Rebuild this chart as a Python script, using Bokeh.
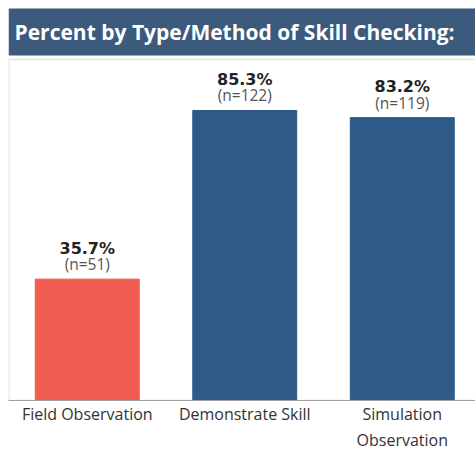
from bokeh.plotting import figure
from bokeh.models import Range1d, BoxAnnotation, Label, ColumnDataSource, FixedTicker
from bokeh.core.properties import value
from bokeh.embed import file_html
from bokeh.resources import INLINE

categories = ["Field Observation", "Demonstrate Skill", "Simulation\nObservation"]
percents = [35.7, 85.3, 83.2]
counts = [51, 122, 119]
colors = ["#f05c50", "#2e5a87", "#2e5a87"]
title_text = "Percent by Type/Method of Skill Checking:"

xs = list(range(len(categories)))
src = ColumnDataSource(dict(
    x=xs, top=percents, color=colors,
    pct=[f"{v:.1f}%" for v in percents],
    n=[f"(n={c})" for c in counts],
))

FONT = "Open Sans"
LFONT = "DejaVu Sans"
p = figure(frame_width=467, frame_height=392, output_backend="svg", toolbar_location=None,
           x_range=Range1d(-0.5, 2.465), y_range=Range1d(0, 115.3),
           min_border_left=8, min_border_right=0, min_border_top=8, min_border_bottom=0)
p.outline_line_color = None
p.grid.visible = False
p.yaxis.visible = False
p.background_fill_color = "white"

p.vbar(x="x", top="top", width=0.66, color="color", source=src)

# title band
p.add_layout(BoxAnnotation(bottom=101.5, top=116, fill_color="#3b5a7c", fill_alpha=1, line_color=None))
p.add_layout(Label(x=-0.5, y=108.4, x_offset=6, text=title_text, text_color="white",
                   text_font=FONT, text_font_style="bold", text_font_size="21px",
                   text_baseline="middle", text_align="left"))
# chart frame border
p.add_layout(BoxAnnotation(bottom=0, top=100.3, left=-0.497, right=2.6, fill_alpha=0,
                           line_color="#a0a0a0", line_width=1.5))

p.text(x="x", y="top", text="pct", source=src, y_offset=-31, text_align="center",
       text_baseline="alphabetic", text_font=value(LFONT), text_font_style="bold",
       text_font_size="16px", text_color="#222222")
p.text(x="x", y="top", text="n", source=src, y_offset=-15, text_align="center",
       text_baseline="alphabetic", text_font=value(FONT),
       text_font_size="15.5px", text_color="#555555")

p.xaxis.ticker = FixedTicker(ticks=xs)
p.xaxis.major_label_overrides = {i: c for i, c in zip(xs, categories)}
p.xaxis.major_label_text_font = FONT
p.xaxis.major_label_text_font_size = "16px"
p.xaxis.major_label_text_color = "#333333"
p.xaxis.major_tick_line_color = None
p.xaxis.major_tick_out = 0
p.xaxis.major_tick_in = 0
p.xaxis.minor_tick_line_color = None
p.xaxis.axis_line_color = "#a0a0a0"
p.xaxis.major_label_standoff = 2

open("out.html", "w").write(file_html(p, INLINE))
